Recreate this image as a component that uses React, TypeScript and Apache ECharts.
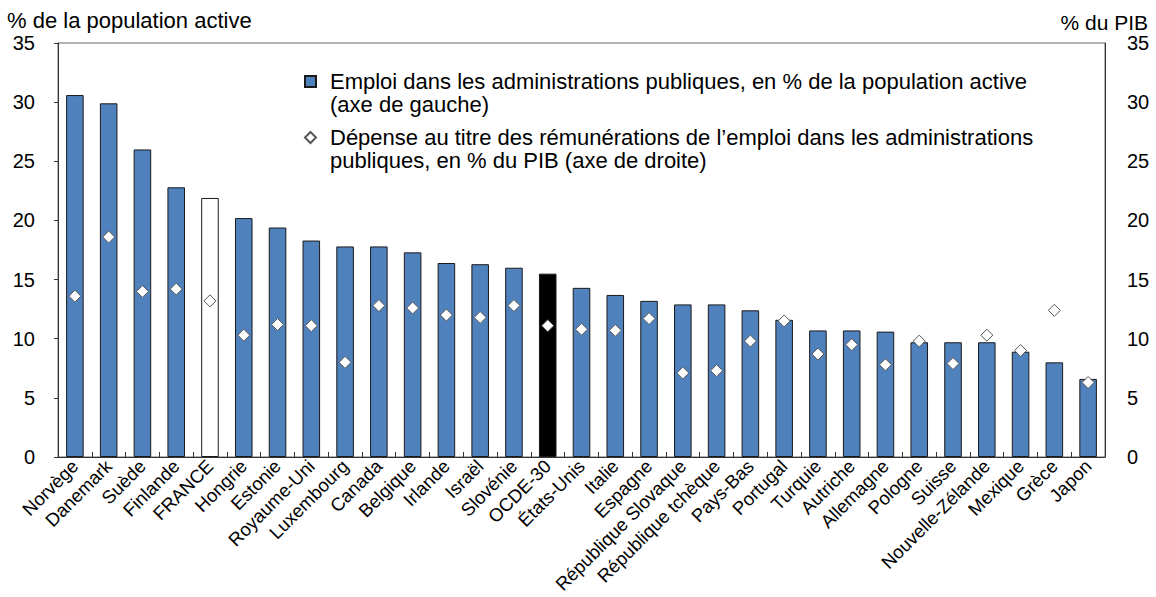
import React, { useEffect, useRef } from 'react';
import * as echarts from 'echarts';

const categories = [
  'Norvège', 'Danemark', 'Suède', 'Finlande', 'FRANCE', 'Hongrie', 'Estonie',
  'Royaume-Uni', 'Luxembourg', 'Canada', 'Belgique', 'Irlande', 'Israël',
  'Slovénie', 'OCDE-30', 'États-Unis', 'Italie', 'Espagne',
  'République Slovaque', 'République tchèque', 'Pays-Bas', 'Portugal',
  'Turquie', 'Autriche', 'Allemagne', 'Pologne', 'Suisse',
  'Nouvelle-Zélande', 'Mexique', 'Grèce', 'Japon',
];

// Emploi dans les administrations publiques, % de la population active (axe de gauche)
const employmentShare = [
  30.6, 29.9, 26.0, 22.8, 21.9, 20.2, 19.4, 18.3, 17.8, 17.8, 17.3, 16.4, 16.3,
  16.0, 15.5, 14.3, 13.7, 13.2, 12.9, 12.9, 12.4, 11.6, 10.7, 10.7, 10.6, 9.7,
  9.7, 9.7, 8.9, 8.0, 6.6,
];

// Dépense au titre des rémunérations, % du PIB (axe de droite)
const compensationShare = [
  13.6, 18.6, 14.0, 14.2, 13.2, 10.3, 11.2, 11.1, 8.0, 12.8, 12.6, 12.0, 11.8,
  12.8, 11.1, 10.8, 10.7, 11.7, 7.1, 7.3, 9.8, 11.5, 8.7, 9.5, 7.8, 9.8, 7.9,
  10.3, 9.0, 12.4, 6.3,
];

const axisMin = 0;
const axisMax = 35;
const axisStep = 5;

const seriesNames = [
  'Emploi dans les administrations publiques, en % de la population active\n(axe de gauche)',
  'Dépense au titre des rémunérations de l’emploi dans les administrations\npubliques, en % du PIB (axe de droite)',
];

const FONT = '"Liberation Sans", Arial, sans-serif';
const BLUE = '#4F81BD';

export default function App() {
  const ref = useRef<HTMLDivElement>(null);

  useEffect(() => {
    document.body.style.margin = '0';
    const chart = echarts.init(ref.current!, null, { renderer: 'svg' });

    const barData = categories.map((c, i) => {
      let itemStyle: any = undefined;
      if (c === 'FRANCE') itemStyle = { color: '#ffffff' };
      else if (c === 'OCDE-30') itemStyle = { color: '#000000' };
      return itemStyle ? { value: employmentShare[i], itemStyle } : employmentShare[i];
    });

    chart.setOption({
      animation: false,
      textStyle: { fontFamily: FONT, color: '#000' },
      title: [
        {
          text: '% de la population active',
          left: 7,
          top: 9,
          padding: 0,
          textStyle: { fontFamily: FONT, fontSize: 22, fontWeight: 'normal', color: '#000' },
        },
        {
          text: '% du PIB',
          right: 8,
          top: 12,
          padding: 0,
          textStyle: { fontFamily: FONT, fontSize: 21, fontWeight: 'normal', color: '#000' },
        },
      ],
      legend: {
        orient: 'vertical',
        left: 299,
        top: 42,
        itemGap: -13,
        itemWidth: 11,
        itemHeight: 11,
        selectedMode: false,
        formatter: (name: string) => '\n' + name,
        textStyle: {
          fontFamily: FONT,
          fontSize: 22,
          color: '#000',
          lineHeight: 23,
          padding: [0, 0, 0, 9],
        },
        data: [
          { name: seriesNames[0], icon: 'rect' },
          { name: seriesNames[1], icon: 'diamond' },
        ],
      },
      grid: {
        left: 58,
        right: 51,
        top: 43,
        bottom: 140,
        show: true,
        borderColor: '#666',
        borderWidth: 1,
        containLabel: false,
      },
      xAxis: {
        type: 'category',
        data: categories,
        axisLine: { lineStyle: { color: '#333', width: 1 } },
        axisTick: { show: true, inside: true, length: 5, alignWithLabel: false, lineStyle: { color: '#333' } },
        axisLabel: {
          interval: 0,
          rotate: 45,
          fontFamily: FONT,
          fontSize: 18.5,
          color: '#000',
          margin: 6,
        },
        splitLine: { show: false },
      },
      yAxis: [
        {
          type: 'value',
          min: axisMin,
          max: axisMax,
          interval: axisStep,
          position: 'left',
          axisLine: { show: true, lineStyle: { color: '#333' } },
          axisTick: { show: true, length: 4, lineStyle: { color: '#333' } },
          axisLabel: { fontFamily: FONT, fontSize: 20, color: '#000', margin: 23 },
          splitLine: { show: false },
        },
        {
          type: 'value',
          min: axisMin,
          max: axisMax,
          interval: axisStep,
          position: 'right',
          axisLine: { show: true, lineStyle: { color: '#333' } },
          axisTick: { show: false },
          axisLabel: { fontFamily: FONT, fontSize: 20, color: '#000', margin: 22 },
          splitLine: { show: false },
        },
      ],
      series: [
        {
          name: seriesNames[0],
          type: 'bar',
          yAxisIndex: 0,
          data: barData,
          barWidth: '52%',
          itemStyle: { color: BLUE, borderColor: '#1a1a1a', borderWidth: 1 },
        },
        {
          name: seriesNames[1],
          type: 'scatter',
          yAxisIndex: 1,
          data: compensationShare,
          symbol: 'diamond',
          symbolSize: 12,
          itemStyle: { color: '#ffffff', borderColor: '#555', borderWidth: 1, opacity: 1 },
          z: 5,
        },
      ],
    });

    return () => chart.dispose();
  }, []);

  return <div ref={ref} style={{ width: 1156, height: 597 }} />;
}
